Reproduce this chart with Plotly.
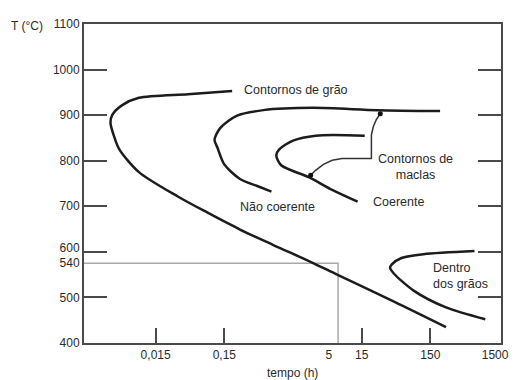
import math
import plotly.graph_objects as go

# ---- data ----
grain_t = [0.195, 0.0443, 0.00857, 0.0049, 0.00352, 0.0033, 0.00377, 0.00444, 0.00857, 0.032, 0.0857, 0.254, 0.776, 2.9, 6.59, 44.4, 254]
grain_T = [953, 946, 938, 922, 901, 883, 851, 825, 775, 721, 686, 649, 615, 576, 550, 491, 435]

incoh_t = [208, 25.4, 2.9, 0.558, 0.23, 0.1315, 0.108, 0.119, 0.150, 0.254, 0.443, 0.728]
incoh_T = [909, 911, 916, 911, 899, 872, 846, 829, 792, 760, 745, 732]

coh_t = [16.6, 3.2, 1.5, 0.946, 0.857, 1.01, 2.54, 5.59, 13.1]
coh_T = [855, 855, 844, 825, 812, 790, 764, 736, 710]

inner_t = [659, 119, 55.9, 41.6, 38.9, 44.4, 85.7, 254, 946]
inner_T = [602, 595, 586, 573, 565, 552, 515, 478, 452]

bracket_t = [28.0, 24.5, 22.2, 20.8, 20.8, 7.76, 5.59, 4.16, 3.20, 2.71]
bracket_T = [903, 890, 875, 857, 805, 805, 801, 792, 779, 768]

ref_t = 6.8
ref_T = 575

x_tick_vals = [0.015, 0.15, 5, 15, 150, 1315]
x_tick_text = ["0,015", "0,15", "5", "15", "150", "1500"]
x_tick_marks = [0.015, 0.15, 15, 150]

y_tick_vals = [400, 500, 575, 608, 700, 800, 900, 1000, 1100]
y_tick_text = ["400", "500", "540", "600", "700", "800", "900", "1000", "1100"]
y_tick_marks = [500, 600, 700, 800, 900, 1000]

x_range_log = [-2.867, 3.205]
y_range = [400, 1100]

# ---- figure ----
CURVE = "#1c1c1c"
TXT = "#2a2a2a"
FONT = "Liberation Sans, Arial, sans-serif"

fig = go.Figure()

x_left = 10 ** x_range_log[0]
fig.add_trace(go.Scatter(x=[x_left, ref_t, ref_t], y=[ref_T, ref_T, y_range[0]],
                         mode="lines", line=dict(color="#a8a8a8", width=1.5),
                         hoverinfo="skip", showlegend=False))

for tx, ty in [(grain_t, grain_T), (incoh_t, incoh_T), (coh_t, coh_T), (inner_t, inner_T)]:
    fig.add_trace(go.Scatter(x=tx, y=ty, mode="lines",
                             line=dict(color=CURVE, width=2.5, shape="spline", smoothing=0.8),
                             hoverinfo="skip", showlegend=False))

fig.add_trace(go.Scatter(x=bracket_t, y=bracket_T, mode="lines",
                         line=dict(color="#333333", width=1.5),
                         hoverinfo="skip", showlegend=False))
fig.add_trace(go.Scatter(x=[bracket_t[0], bracket_t[-1]], y=[bracket_T[0], bracket_T[-1]],
                         mode="markers", marker=dict(color="#111111", size=5),
                         hoverinfo="skip", showlegend=False))

# dummy trace to carry the tick-mark axes
fig.add_trace(go.Scatter(x=[], y=[], xaxis="x2", yaxis="y2", showlegend=False, hoverinfo="skip"))

ann_font = dict(family=FONT, size=12.5, color=TXT)
labels = [
    dict(x=0.271, y=955, text="Contornos de grão", xanchor="left", align="left"),
    dict(x=0.885, y=699, text="Não coerente", xanchor="center", align="center"),
    dict(x=20.8, y=710, text="Coerente", xanchor="left", align="left"),
    dict(x=91.6, y=786, text="Contornos de<br>maclas", xanchor="center", align="center"),
    dict(x=155, y=547, text="Dentro<br>dos grãos", xanchor="left", align="left"),
]
for a in labels:
    fig.add_annotation(x=math.log10(a["x"]), y=a["y"], text=a["text"],
                       xanchor=a["xanchor"], yanchor="middle", align=a["align"],
                       showarrow=False, font=ann_font, xref="x", yref="y")

fig.add_annotation(x=0.501, y=-0.095, xref="paper", yref="paper", text="tempo (h)",
                   showarrow=False, font=dict(family=FONT, size=12, color=TXT),
                   xanchor="center", yanchor="middle")
fig.add_annotation(x=-0.136, y=0.994, xref="paper", yref="paper", text="T (°C)",
                   showarrow=False, font=dict(family=FONT, size=12, color=TXT),
                   xanchor="center", yanchor="middle")

AX = "#4a4a4a"
fig.update_layout(
    width=510, height=372,
    margin=dict(l=76, r=9, t=12, b=37),
    paper_bgcolor="white", plot_bgcolor="white",
    font=dict(family=FONT, size=12, color=TXT),
    showlegend=False,
    xaxis=dict(type="log", range=x_range_log, tickvals=x_tick_vals, ticktext=x_tick_text,
               ticks="", showgrid=False, zeroline=False, showline=True, mirror=True,
               linecolor=AX, linewidth=2, tickfont=dict(size=12, color=TXT),
               ticklabeloverflow="allow"),
    yaxis=dict(range=y_range, tickvals=y_tick_vals, ticktext=y_tick_text,
               ticks="", showgrid=False, zeroline=False, showline=True, mirror=True,
               linecolor=AX, linewidth=2, tickfont=dict(size=12, color=TXT)),
    xaxis2=dict(type="log", range=x_range_log, overlaying="x", anchor="y2", side="bottom",
                tickvals=x_tick_marks, ticks="inside", ticklen=15, tickwidth=2, tickcolor=AX,
                showticklabels=False, showgrid=False, zeroline=False, showline=False),
    yaxis2=dict(range=y_range, overlaying="y", anchor="x2", side="left",
                tickvals=y_tick_marks, ticks="inside", ticklen=23, tickwidth=2, tickcolor=AX,
                mirror="ticks", showticklabels=False, showgrid=False, zeroline=False,
                showline=True, linecolor=AX, linewidth=2),
)

fig.write_html("out.html")
